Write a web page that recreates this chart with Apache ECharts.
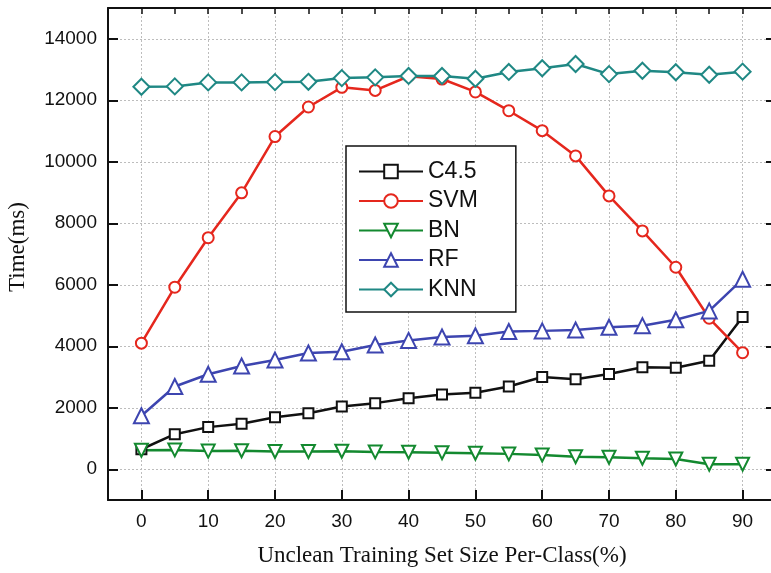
<!DOCTYPE html>
<html>
<head>
<meta charset="utf-8">
<script src="https://cdn.jsdelivr.net/npm/echarts@6/dist/echarts.min.js"></script>
<style>
  html, body { margin: 0; padding: 0; background: #fff; }
  #main { width: 771px; height: 573px; }
</style>
</head>
<body>
<div id="main"></div>
<script>
// x positions (%)
var xValues = [0, 5, 10, 15, 20, 25, 30, 35, 40, 45, 50, 55, 60, 65, 70, 75, 80, 85, 90];
var xTickLabels = [0, 10, 20, 30, 40, 50, 60, 70, 80, 90];
var yTickLabels = [0, 2000, 4000, 6000, 8000, 10000, 12000, 14000];

// times in ms
var c45 = [650, 1140, 1370, 1480, 1690, 1820, 2040, 2150, 2310, 2430, 2490, 2690, 3000, 2930, 3100, 3320, 3300, 3530, 4950];
var svm = [4100, 5920, 7530, 8990, 10820, 11780, 12420, 12320, 12780, 12690, 12270, 11660, 11010, 10190, 8890, 7750, 6570, 4910, 3790];
var bn = [620, 630, 590, 600, 575, 575, 585, 565, 555, 540, 520, 500, 465, 410, 390, 360, 335, 165, 165];
var rf = [1740, 2690, 3090, 3360, 3550, 3780, 3820, 4040, 4190, 4300, 4340, 4480, 4500, 4530, 4620, 4670, 4860, 5150, 6180];
var knn = [12440, 12450, 12580, 12580, 12590, 12600, 12720, 12745, 12790, 12790, 12700, 12920, 13040, 13180, 12850, 12960, 12910, 12830, 12930];

function pairs(ys) {
  return xValues.map(function (x, i) { return [x, ys[i]]; });
}

function mkSeries(name, ys, color, symbol, size, rotate) {
  return {
    name: name,
    type: 'line',
    xAxisIndex: 0,
    yAxisIndex: 0,
    data: pairs(ys),
    symbol: symbol,
    symbolSize: size,
    symbolRotate: rotate || 0,
    showAllSymbol: true,
    lineStyle: { color: color, width: 2.5 },
    itemStyle: { color: '#fff', borderColor: color, borderWidth: 2 },
    emphasis: { disabled: true }
  };
}

var chart = echarts.init(document.getElementById('main'));
var axisCol = '#111';
var gridLine = { show: true, lineStyle: { color: '#bdbdbd', type: [2, 2], width: 1 } };
var labelFont = { fontFamily: 'Liberation Sans', fontSize: 19, color: '#111' };

// plot box: y from -1000 (bottom, y=500px) to 15000 (top, y=8px)
// second grid starts at value 0 so its ticks/grid lines fall on 0, 2000, ...
var plotTop = 8, plotBottom = 73, plotH = 573 - plotTop - plotBottom;
var zeroBottom = plotBottom + plotH * 1000 / 16000;

var option = {
  animation: false,
  backgroundColor: '#fff',
  grid: [
    { left: 108, top: plotTop, right: -5, bottom: plotBottom, outerBoundsMode: 'none', containLabel: false },
    { left: 108, top: plotTop, right: -5, bottom: zeroBottom, outerBoundsMode: 'none', containLabel: false }
  ],
  legend: {
    orient: 'vertical',
    left: 346,
    top: 146,
    padding: [14, 38, 11, 12],
    itemWidth: 64,
    itemHeight: 17,
    itemGap: 6.5,
    backgroundColor: '#fff',
    borderColor: '#111',
    borderWidth: 1.5,
    textStyle: { fontFamily: 'Liberation Sans', fontSize: 23, lineHeight: 23, color: '#111' },
    data: ['C4.5', 'SVM', 'BN', 'RF', 'KNN']
  },
  xAxis: [{
    type: 'value',
    gridIndex: 0,
    position: 'bottom',
    min: -5,
    max: 95,
    interval: 5,
    name: 'Unclean Training Set Size Per-Class(%)',
    nameLocation: 'middle',
    nameGap: 44,
    nameTextStyle: { fontFamily: 'Liberation Serif', fontSize: 23, color: '#111' },
    axisLine: { show: true, onZero: false, lineStyle: { color: axisCol, width: 2 } },
    axisTick: { show: true, inside: true, length: 10, lineStyle: { color: axisCol, width: 2 }, customValues: xTickLabels },
    axisLabel: Object.assign({ customValues: xTickLabels, margin: 12 }, labelFont),
    splitLine: gridLine
  }, {
    type: 'value',
    gridIndex: 0,
    position: 'top',
    min: -5,
    max: 95,
    interval: 5,
    axisLine: { show: true, onZero: false, lineStyle: { color: axisCol, width: 2 } },
    axisTick: { show: true, inside: true, length: 6, lineStyle: { color: axisCol, width: 1.5 } },
    axisLabel: { show: false },
    splitLine: { show: false }
  }, {
    type: 'value',
    gridIndex: 1,
    min: -5,
    max: 95,
    show: false
  }],
  yAxis: [{
    type: 'value',
    gridIndex: 0,
    position: 'left',
    min: -1000,
    max: 15000,
    name: 'Time(ms)',
    nameLocation: 'middle',
    nameGap: 79,
    nameTextStyle: { fontFamily: 'Liberation Serif', fontSize: 23, color: '#111', padding: [0, 0, 0, 14] },
    axisLine: { show: true, onZero: false, lineStyle: { color: axisCol, width: 2 } },
    axisTick: { show: false },
    axisLabel: { show: false },
    splitLine: { show: false }
  }, {
    type: 'value',
    gridIndex: 0,
    position: 'right',
    min: -1000,
    max: 15000,
    axisLine: { show: true, onZero: false, lineStyle: { color: axisCol, width: 2 } },
    axisTick: { show: false },
    axisLabel: { show: false },
    splitLine: { show: false }
  }, {
    type: 'value',
    gridIndex: 1,
    position: 'left',
    min: 0,
    max: 15000,
    interval: 2000,
    axisLine: { show: false, onZero: false },
    axisTick: { show: true, inside: true, length: 10, lineStyle: { color: axisCol, width: 2 }, customValues: yTickLabels },
    axisLabel: Object.assign({ customValues: yTickLabels, margin: 11, formatter: function (v) { return String(v); } }, labelFont),
    splitLine: gridLine
  }, {
    type: 'value',
    gridIndex: 1,
    position: 'right',
    min: 0,
    max: 15000,
    interval: 2000,
    axisLine: { show: false, onZero: false },
    axisTick: { show: true, inside: true, length: 10, lineStyle: { color: axisCol, width: 2 }, customValues: yTickLabels },
    axisLabel: { show: false },
    splitLine: { show: false }
  }],
  series: [
    mkSeries('C4.5', c45, '#111111', 'rect', 10),
    mkSeries('SVM', svm, '#e5271d', 'circle', 11),
    mkSeries('BN', bn, '#13892f', 'triangle', 13, 180),
    mkSeries('RF', rf, '#3d45b0', 'triangle', 15),
    mkSeries('KNN', knn, '#1f8884', 'diamond', [16, 16])
  ]
};

chart.setOption(option);
</script>
</body>
</html>
